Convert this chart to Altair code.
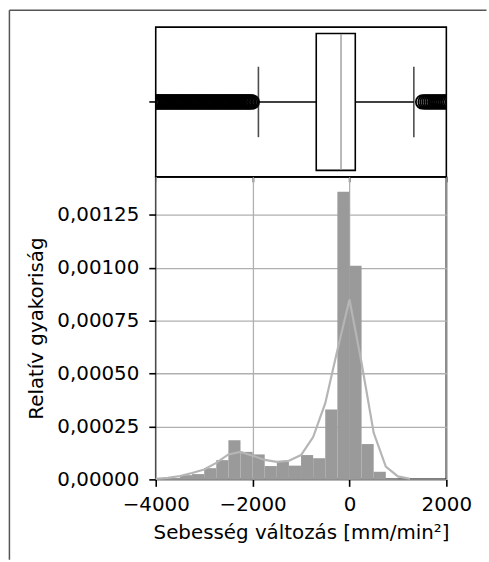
import altair as alt
import pandas as pd

# ---------------- data ----------------
bin_left = [-4000, -3750, -3500, -3250, -3000, -2750, -2500, -2250, -2000, -1750,
            -1500, -1250, -1000, -750, -500, -250, 0, 250, 500, 750]
bin_right = [-3750, -3500, -3250, -3000, -2750, -2500, -2250, -2000, -1750, -1500,
             -1250, -1000, -750, -500, -250, 0, 250, 500, 750, 1000]
density = [0.000004, 0.000007, 0.00002, 0.000025, 0.000053, 0.000091, 0.000185, 0.00013,
           0.000118, 0.000063, 0.000084, 0.000065, 0.000115, 0.0001, 0.00033, 0.00136,
           0.00101, 0.000167, 0.000036, 0.000004]

kde_x = [-4000, -3750, -3500, -3250, -3000, -2750, -2500, -2250, -2000, -1750, -1500,
         -1250, -1000, -750, -500, -250, 0, 250, 500, 750, 1000, 1250]
kde_y = [0.000003, 0.000007, 0.000016, 0.00003, 0.000047, 0.000078, 0.000118, 0.00013,
         0.000112, 0.000092, 0.000083, 0.000088, 0.000115, 0.0002, 0.00036, 0.00061,
         0.00085, 0.00055, 0.00022, 0.00006, 0.000014, 0.000003]

box_q1 = [-686]
box_median = [-174]
box_q3 = [120]
whisker_low = [-1880]
whisker_high = [1329]

outliers_low = [-4050, -4020, -3990, -3960, -3930, -3900, -3870, -3840, -3810, -3780,
                -3750, -3720, -3690, -3660, -3630, -3600, -3570, -3540, -3510, -3480,
                -3450, -3420, -3390, -3360, -3330, -3300, -3270, -3240, -3210, -3180,
                -3150, -3120, -3090, -3060, -3030, -3000, -2970, -2940, -2910, -2880,
                -2850, -2820, -2790, -2760, -2730, -2700, -2670, -2640, -2610, -2580,
                -2550, -2520, -2490, -2460, -2430, -2400, -2370, -2340, -2310, -2280,
                -2250, -2220, -2190, -2160, -2130, -2100, -2070, -2040, -2005]
outliers_high = [1510, 1560, 1600, 1640, 1680, 1720, 1760, 1800, 1840, 1880, 1920, 1960,
                 2000, 2040]

x_ticks = [-4000, -2000, 0, 2000]
y_ticks = [0, 0.00025, 0.0005, 0.00075, 0.001, 0.00125]

# ---------------- tables ----------------
hist_df = pd.DataFrame({"x0": bin_left, "x1": bin_right, "d": density})
kde_df = pd.DataFrame({"x": kde_x, "y": kde_y})
box_df = pd.DataFrame({"g": ["v"], "q1": box_q1, "med": box_median, "q3": box_q3,
                       "lo": whisker_low, "hi": whisker_high})
out_df = pd.DataFrame({"g": "v", "x": outliers_low + outliers_high})
one = pd.DataFrame({"a": [0]})

FONT = "DejaVu Sans"
W = 293
H_TOP = 151
H_BOT = 305
LW = 1.6

xscale = alt.Scale(domain=[-4000, 2000], nice=False, zero=False)

top_x_axis = alt.Axis(labels=False, title=None, ticks=True, tickSize=5, values=x_ticks,
                      grid=False, domain=False)
yband = alt.Y("g:N", title=None,
              axis=alt.Axis(labels=False, title=None, ticks=True, tickSize=7, domain=False),
              scale=alt.Scale(paddingInner=0, paddingOuter=0))

base_box = alt.Chart(box_df)

box = base_box.mark_bar(size=138, fill="white", stroke="black", strokeWidth=LW).encode(
    x=alt.X("q1:Q", scale=xscale, axis=top_x_axis), x2="q3:Q", y=yband)
median = base_box.mark_tick(size=137, thickness=2, color="#9a9a9a").encode(
    x=alt.X("med:Q"), y=yband)
wl = base_box.mark_rule(color="black", strokeWidth=LW).encode(
    x="lo:Q", x2="q1:Q", y=yband)
wh = base_box.mark_rule(color="black", strokeWidth=LW).encode(
    x="q3:Q", x2="hi:Q", y=yband)
cap_l = base_box.mark_tick(size=71, thickness=LW, color="black").encode(x="lo:Q", y=yband)
cap_h = base_box.mark_tick(size=71, thickness=LW, color="black").encode(x="hi:Q", y=yband)
outl = alt.Chart(out_df).mark_point(shape="circle", filled=False, stroke="black",
                                    strokeWidth=1.8, size=185, clip=True, opacity=1).encode(
    x="x:Q", y=yband)

frame_top = alt.Chart(one).mark_rule(color="#555555", strokeWidth=1.5, clip=False).encode(
    x=alt.value(-147.5), x2=alt.value(333.5), y=alt.value(-17))
frame_left = alt.Chart(one).mark_rule(color="#555555", strokeWidth=1.5, clip=False).encode(
    x=alt.value(-147.5), y=alt.value(-17), y2=alt.value(537))

top = alt.layer(frame_top, frame_left, wl, wh, cap_l, cap_h, outl, box, median).properties(
    width=W, height=H_TOP)

# ---------------- bottom panel ----------------
xb = alt.X("x0:Q", scale=xscale,
           axis=alt.Axis(values=x_ticks, grid=True, gridColor="#b0b0b0", gridWidth=1.3,
                         tickSize=7, labelPadding=8, domain=False, format="d",
                         labelFlush=False, labelOverlap=False,
                         title="Sebesség változás [mm/min²]", titlePadding=9))
yb = alt.Y("d:Q", scale=alt.Scale(domain=[0, 0.00143], nice=False, zero=True),
           axis=alt.Axis(values=y_ticks, grid=True, gridColor="#b0b0b0", gridWidth=1.3,
                         tickSize=7, labelPadding=10, domain=False, labelOverlap=False,
                         labelExpr="replace(format(datum.value, '.5f'), '.', ',')",
                         title="Relatív gyakoriság", titlePadding=10))

hist = alt.Chart(hist_df).mark_rect(color="#9a9a9a").encode(
    x=xb, x2="x1:Q", y=yb, y2=alt.datum(0))
kde = alt.Chart(kde_df).mark_line(color="#b5b5b5", strokeWidth=2.2).encode(
    x=alt.X("x:Q"), y=alt.Y("y:Q"))

bottom = alt.layer(hist, kde).properties(width=W, height=H_BOT)

chart = alt.vconcat(top, bottom, spacing=0, bounds="flush").properties(
    padding={"left": 7, "top": 6, "right": 0, "bottom": 0},
    background="white",
).configure_view(
    stroke="black", strokeWidth=LW
).configure_axis(
    labelFont=FONT, titleFont=FONT, labelFontSize=20, titleFontSize=20,
    labelColor="black", titleColor="black", tickColor="black", tickWidth=LW,
    titleFontWeight="normal"
)

chart.save("out.html", embed_options={"renderer": "svg", "actions": False})
